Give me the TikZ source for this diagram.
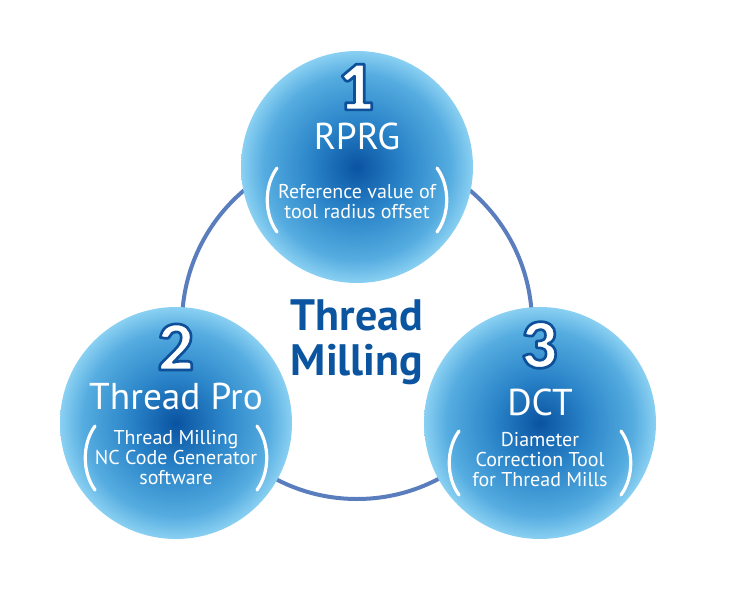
\documentclass[tikz,border=0pt]{standalone}
\usepackage{fontspec}
\setmainfont{PT Sans}
\newfontfamily\numfont{Lato Black}
\usetikzlibrary{calc}
\definecolor{BallCore}{HTML}{0A53A2}
\definecolor{BallMid}{HTML}{2A84C8}
\definecolor{BallOuter}{HTML}{55ACE0}
\definecolor{BallRim}{HTML}{8AD0F2}
\definecolor{RingColor}{HTML}{5A7DBD}
\definecolor{ThemeColor}{HTML}{0B55A0}
\pgfdeclareradialshading{ballshade}{\pgfpoint{0bp}{0bp}}{%
  color(0bp)=(BallCore); color(10bp)=(BallMid); color(20bp)=(BallOuter);
  color(25bp)=(BallRim); color(50bp)=(BallRim)}
\newcommand{\BallSize}{174pt}
\newcommand{\HubSize}{262.5pt}
% outlined digit: white fill, dark blue stroke
\newcommand{\OutlineNum}[1]{%
  \special{pdf:literal direct 2 Tr 2 w 1 j 0.05 0.31 0.60 RG}#1\special{pdf:literal direct 0 Tr}}
\newcommand{\PlaceParens}[3]{%
  % #1 ball, #2 y offset of the note, #3 half spread
  \draw[paren] ($(#1)+(-#3+5,#2-32)$) .. controls ($(#1)+(-#3-8,#2-14)$) and ($(#1)+(-#3-8,#2+14)$) .. ($(#1)+(-#3+5,#2+32)$);
  \draw[paren] ($(#1)+(#3-5,#2-32)$) .. controls ($(#1)+(#3+8,#2-14)$) and ($(#1)+(#3+8,#2+14)$) .. ($(#1)+(#3-5,#2+32)$);
}

\begin{document}
\begin{tikzpicture}[
  x=0.75pt,y=-0.75pt,
  hub/.style={circle,draw=RingColor,line width=3pt,minimum size=\HubSize,inner sep=0pt},
  ball/.style={circle,shading=ballshade,minimum size=\BallSize,inner sep=0pt},
  num/.style={text=white,font=\fontsize{47}{47}\selectfont\numfont},
  toolname/.style={text=white,font=\fontsize{28}{28}\selectfont},
  toolnote/.style={text=white,align=center,inner sep=0pt,font=\fontsize{15}{15}\selectfont},
  theme/.style={text=ThemeColor,align=center,font=\fontsize{33}{34}\selectfont\bfseries},
  paren/.style={white,line width=2.4pt,line cap=round}
]
\useasboundingbox (0,0) rectangle (740,600);

% Ring behind the three tools
\node[hub] (hub) at (357,324) {};

% Tools
\node[ball] (top) at (357,167) {};
\node[ball] (left) at (176,423) {};
\node[ball] (right) at (540,423) {};

% Center title
\node[theme] (theme) at (357,342) {Thread\\Milling};

% Numbers
\node[num] (topnum) at ($(top)+(0,-80)$) {\OutlineNum{1}};
\node[num] (leftnum) at ($(left)+(0,-76)$) {\OutlineNum{2}};
\node[num] (rightnum) at ($(right)+(0,-78)$) {\OutlineNum{3}};

% Tool names
\node[toolname] (topname) at ($(top)+(0,-31)$) {RPRG};
\node[toolname] (leftname) at ($(left)+(0,-26)$) {Thread Pro};
\node[toolname] (rightname) at ($(right)+(0,-21)$) {DCT};

% Notes in brackets
\node[toolnote] (topnote) at ($(top)+(0,35)$) {Reference value of\\tool radius offset};
\node[toolnote] (leftnote) at ($(left)+(0,35)$) {Thread Milling\\NC Code Generator\\software};
\node[toolnote] (rightnote) at ($(right)+(0,37)$) {Diameter\\Correction Tool\\for Thread Mills};
\PlaceParens{top}{33}{85}
\PlaceParens{left}{35}{86}
\PlaceParens{right}{40}{86}

\end{tikzpicture}
\end{document}
